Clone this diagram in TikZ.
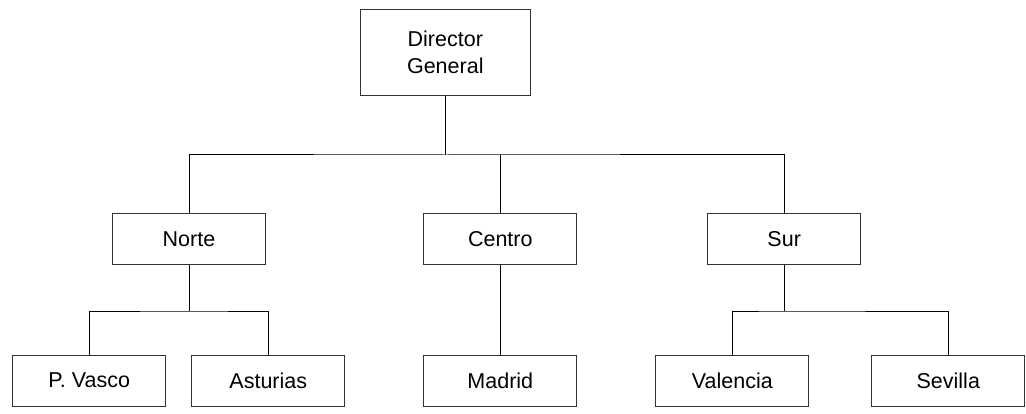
\documentclass[tikz,border=0pt]{standalone}
\usepackage{fontspec}
\setmainfont{Liberation Sans}
\begin{document}
\begin{tikzpicture}[x=1pt,y=-1pt,
  box/.style={draw=black!80,line width=1pt,minimum width=153pt,minimum height=51pt,inner sep=0pt,
    align=center,font=\fontsize{21.5}{26.5}\selectfont},
  conn/.style={draw=black,line width=1pt}]
\useasboundingbox (0,0) rectangle (1026,414);
\node[box,minimum width=170pt,minimum height=86.5pt] (dir) at (445.3,52.3) {Director\\General};
\node[box] (norte) at (189,239) {Norte};
\node[box] (centro) at (500.3,239) {Centro};
\node[box] (sur) at (784.2,239) {Sur};
\node[box] (pv) at (89.2,380.5) {P. Vasco};
\node[box] (ast) at (268.3,380.5) {Asturias};
\node[box] (mad) at (500.3,380.5) {Madrid};
\node[box] (val) at (732.3,380.5) {Valencia};
\node[box] (sev) at (948.3,380.5) {Sevilla};
\coordinate (j0) at (445.3,155);
\coordinate (j1) at (189,311);
\coordinate (j2) at (784.2,311);
\draw[conn] (dir.south) -- (j0);
\draw[conn] (norte.north) |- (j0) -| (sur.north);
\draw[conn] (centro.north) -- (centro.north |- j0);
\draw[conn] (norte.south) -- (j1);
\draw[conn] (pv.north) |- (j1) -| (ast.north);
\draw[conn] (centro.south) -- (mad.north);
\draw[conn] (sur.south) -- (j2);
\draw[conn] (val.north) |- (j2) -| (sev.north);
\end{tikzpicture}
\end{document}
